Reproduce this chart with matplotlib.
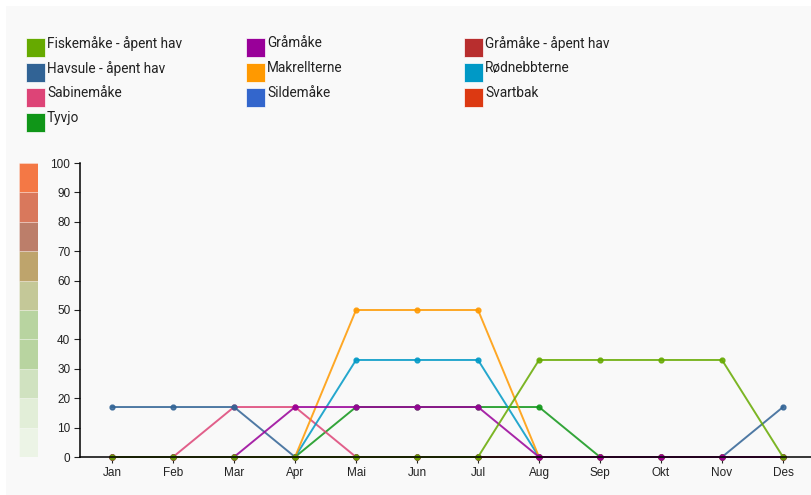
import matplotlib.pyplot as plt
from matplotlib.patches import Rectangle

# data
months = ['Jan', 'Feb', 'Mar', 'Apr', 'Mai', 'Jun', 'Jul', 'Aug', 'Sep', 'Okt', 'Nov', 'Des']
species = ['Fiskemåke - åpent hav', 'Gråmåke', 'Gråmåke - åpent hav',
           'Havsule - åpent hav', 'Makrellterne', 'Rødnebbterne',
           'Sabinemåke', 'Sildemåke', 'Svartbak', 'Tyvjo']
colors = ['#66aa00', '#990099', '#b82e2e', '#316395', '#ff9900', '#0099c6',
          '#dd4477', '#3366cc', '#dc3912', '#109618']
fiskemaake = [0, 0, 0, 0, 0, 0, 0, 33, 33, 33, 33, 0]
graamaake = [0, 0, 0, 17, 17, 17, 17, 0, 0, 0, 0, 0]
graamaake_hav = [0, 0, 0, 0, 0, 0, 0, 0, 0, 0, 0, 0]
havsule = [17, 17, 17, 0, 0, 0, 0, 0, 0, 0, 0, 17]
makrellterne = [0, 0, 0, 0, 50, 50, 50, 0, 0, 0, 0, 0]
rodnebbterne = [0, 0, 0, 0, 33, 33, 33, 0, 0, 0, 0, 0]
sabinemaake = [0, 0, 17, 17, 0, 0, 0, 0, 0, 0, 0, 0]
sildemaake = [0, 0, 0, 0, 0, 0, 0, 0, 0, 0, 0, 0]
svartbak = [0, 0, 0, 0, 0, 0, 0, 0, 0, 0, 0, 0]
tyvjo = [0, 0, 0, 0, 17, 17, 17, 17, 0, 0, 0, 0]
series = [fiskemaake, graamaake, graamaake_hav, havsule, makrellterne,
          rodnebbterne, sabinemaake, sildemaake, svartbak, tyvjo]

# colour scale on the left
scale_levels = [0, 10, 20, 30, 40, 50, 60, 70, 80, 90]
scale_colors = ['#ecf4e6', '#e2eed8', '#d0e2c0', '#b8d4a0', '#b8d4a0',
                '#c4c898', '#bea46c', '#bc7e6a', '#d9785c', '#f47845']

W, H = 812, 495
fig = plt.figure(figsize=(W / 100, H / 100), dpi=100)
fig.patches.append(Rectangle((6 / W, 0), 1, 1 - 6 / H, transform=fig.transFigure,
                             facecolor='#f9f9f9', edgecolor='none', zorder=-5))

ax = fig.add_axes([80 / W, 1 - 457 / H, (W - 80) / W, (457 - 163) / H])
ax.set_facecolor('none')
x = list(range(len(months)))
for vals, c in reversed(list(zip(series, colors))):
    ax.plot(x, vals, color=c, lw=1.4, alpha=0.85, marker='o', markersize=3.5,
            clip_on=False, zorder=3)

ax.set_xlim(-0.525, 11.475)
ax.set_ylim(0, 100)
ax.set_yticks(range(0, 101, 10))
ax.set_xticks(x)
ax.set_xticklabels(months)
for s in ['top', 'right']:
    ax.spines[s].set_visible(False)
for s in ['left', 'bottom']:
    ax.spines[s].set_linewidth(1.1)
    ax.spines[s].set_zorder(5)
ax.tick_params(labelsize=8.5, length=4, width=0.8, pad=3, color='#222222')
for lbl in ax.get_xticklabels() + ax.get_yticklabels():
    lbl.set_family('Liberation Sans')
    lbl.set_color('#222222')

# colour scale
cax = fig.add_axes([19 / W, 1 - 457 / H, 19 / W, (457 - 163) / H])
cax.bar([0] * len(scale_levels), [10] * len(scale_levels), bottom=scale_levels,
        width=1, color=scale_colors, edgecolor=(1, 1, 1, 0.35), linewidth=0.6)
cax.set_xlim(-0.5, 0.5)
cax.set_ylim(0, 100)
cax.axis('off')

# legend
col_x = [26, 246, 464]
for i, (name, c) in enumerate(zip(species, colors)):
    row, col = divmod(i, 3)
    top = 38 + row * 25
    fig.patches.append(Rectangle((col_x[col] / W, 1 - (top + 19) / H), 19 / W, 19 / H,
                                 transform=fig.transFigure, facecolor=c,
                                 edgecolor='white', linewidth=0.5))
    fig.text((col_x[col] + 21) / W, 1 - (top - 2) / H, name, family='Roboto',
             fontsize=9.8, va='top', ha='left', color='#222222')

fig.savefig('out.png', dpi=100)
